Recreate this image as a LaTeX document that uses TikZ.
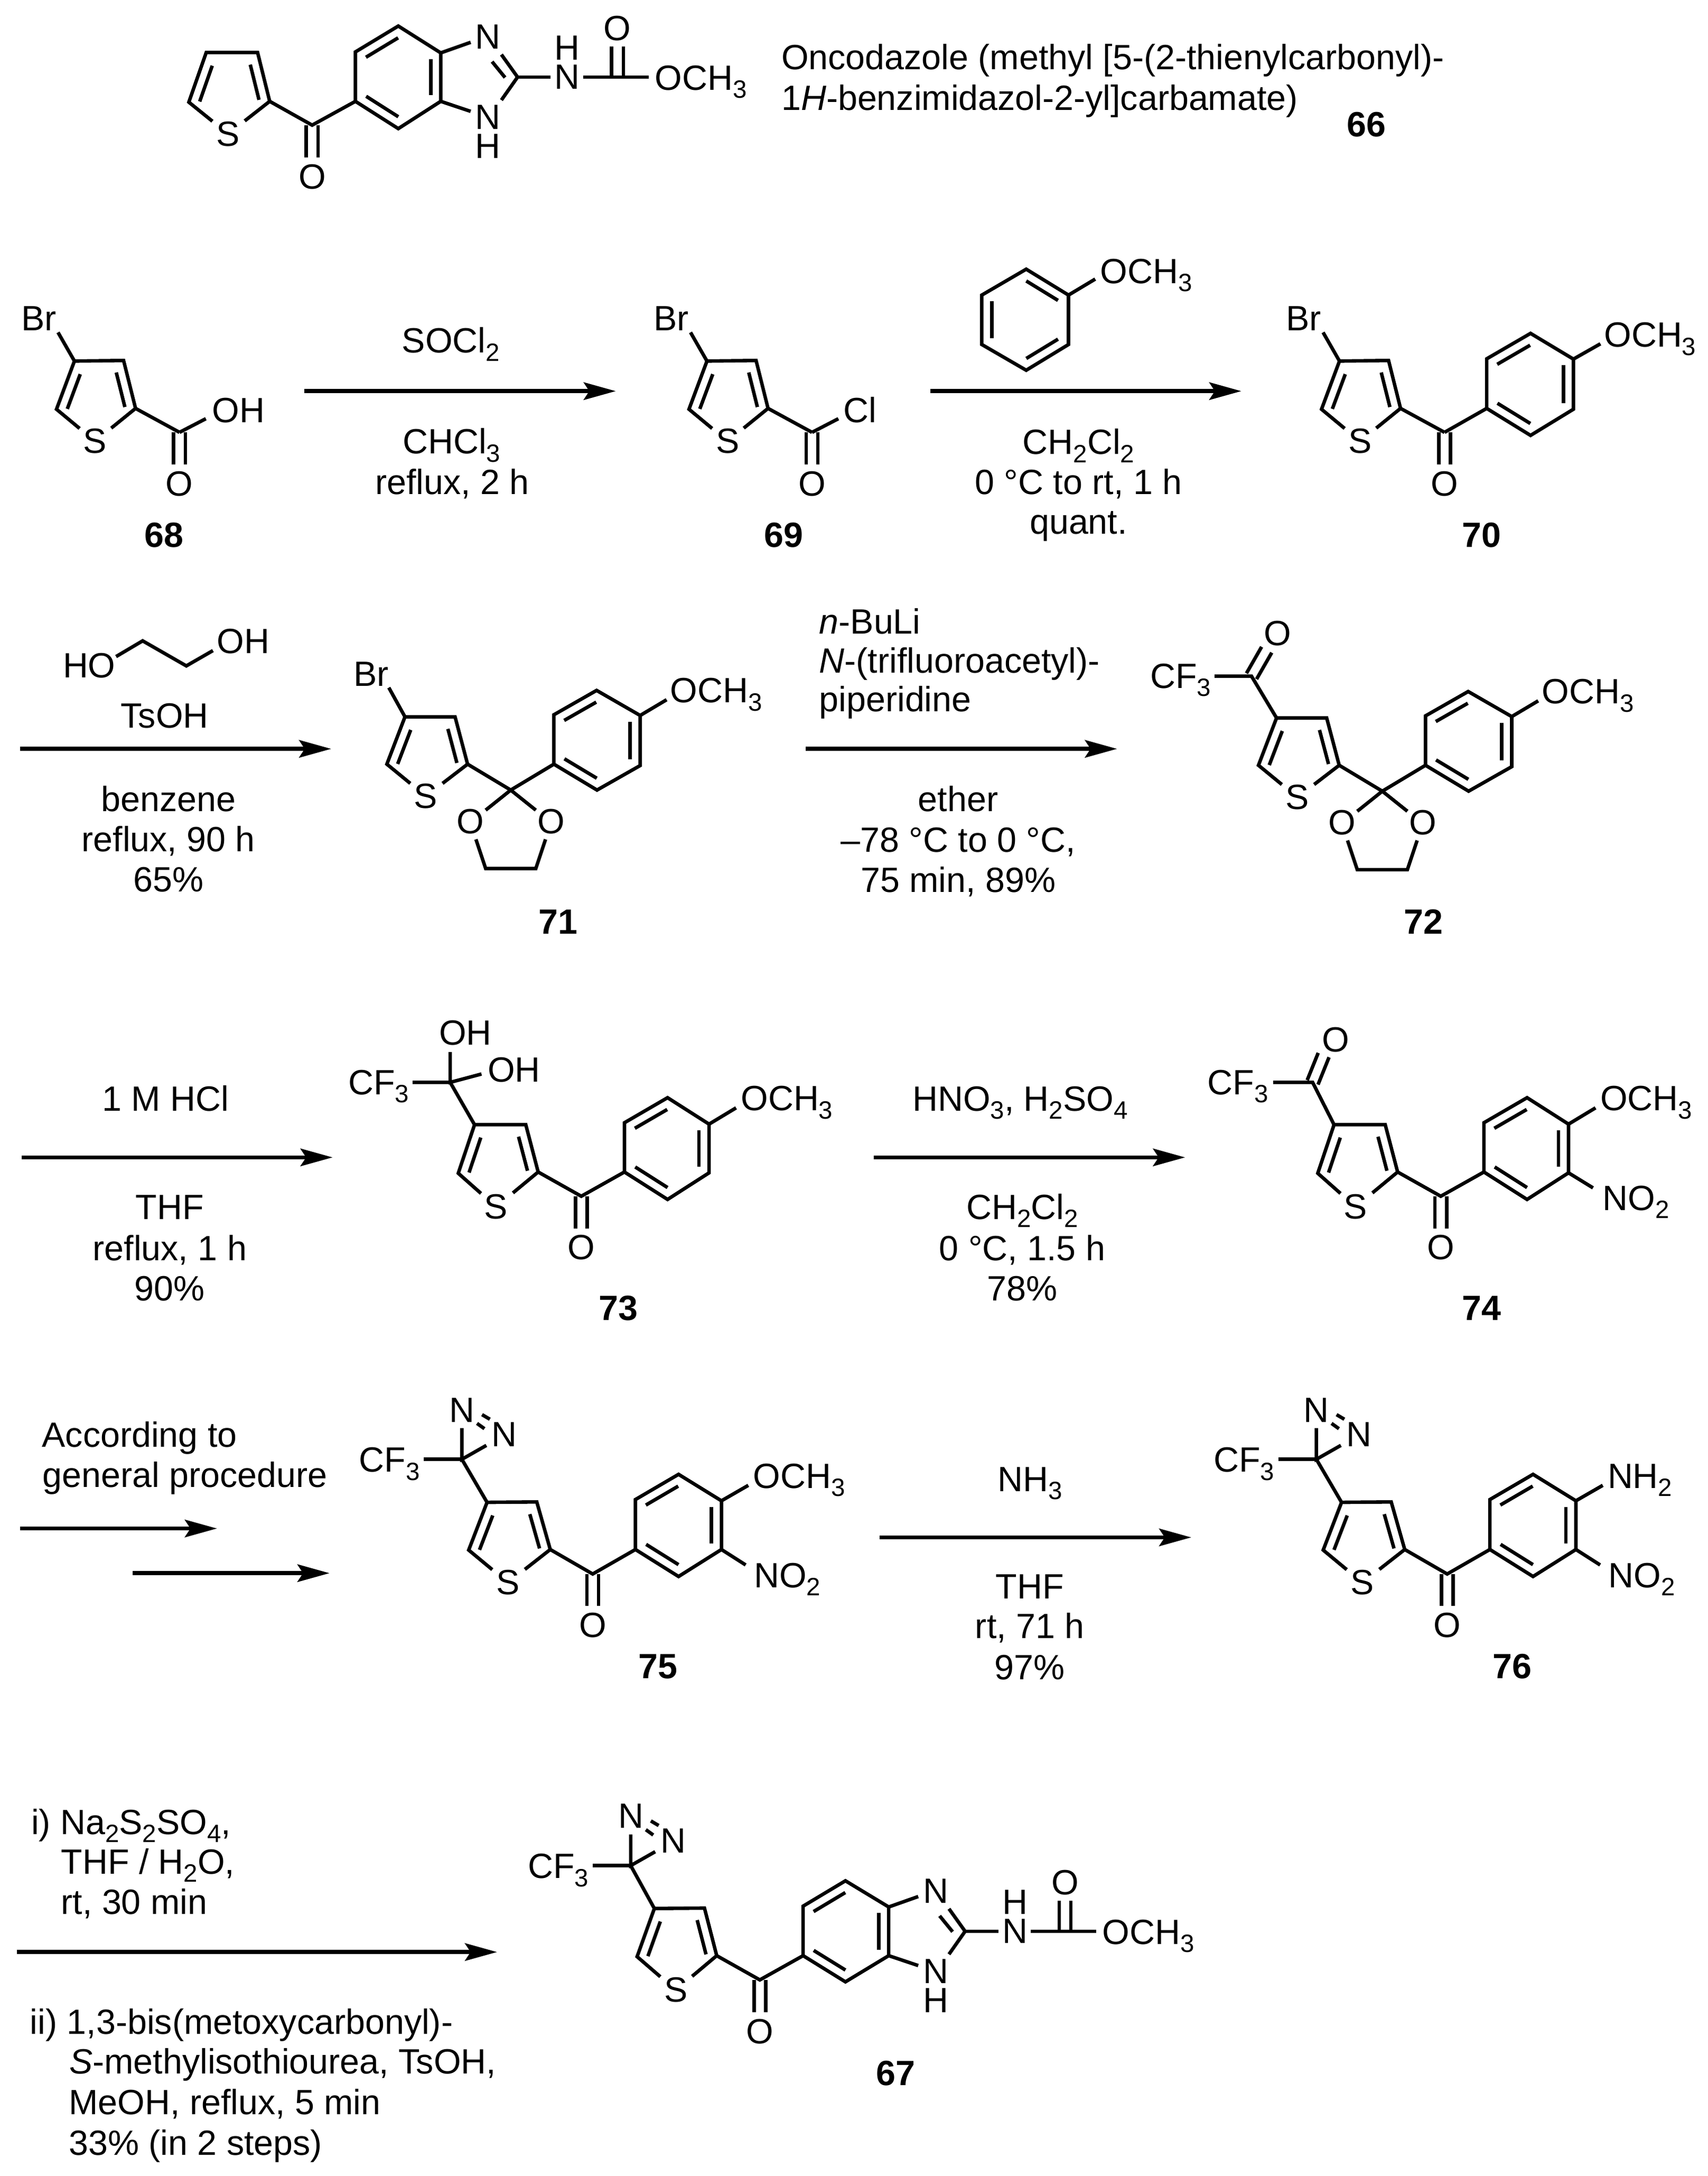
\documentclass[tikz,border=0pt]{standalone}
\usepackage{fontspec}
\setmainfont{Liberation Sans}
\usetikzlibrary{calc,arrows.meta}
\newcommand\dn[1]{\raisebox{-.23em}{\fontsize{18pt}{18pt}\selectfont #1}}
\newcommand\OMe{OCH\dn{3}}
\newcommand\CFt{CF\dn{3}}
\tikzset{
  bond/.style={line width=2.5pt,line join=miter},
  rxn/.style={line width=2.9pt,-{Stealth[length=23pt,width=12.5pt,inset=4pt]}},
  atom/.style={inner sep=0pt,anchor=center},
  ltext/.style={inner sep=0pt,anchor=base west},
  ctext/.style={inner sep=0pt,anchor=base},
  cmpd/.style={inner sep=0pt,anchor=base,font=\fontsize{25.2pt}{28pt}\selectfont\bfseries},
  every node/.append style={font=\fontsize{25.2pt}{28pt}\selectfont}
}
\newcommand\inbf[4]{\draw[bond] ($(#1)!#3!(#2)!7.2pt!-90:(#2)$) -- ($(#2)!#4!(#1)!7.2pt!90:(#1)$);}
\newcommand\inb[2]{\inbf{#1}{#2}{.125}{.125}}
\newcommand\dbond[2]{%
  \draw[bond] ($(#1)!4.2pt!90:(#2)$) -- ($(#2)!4.2pt!-90:(#1)$);
  \draw[bond] ($(#1)!4.2pt!-90:(#2)$) -- ($(#2)!4.2pt!90:(#1)$);}
% thiophene: C5, C4, C3, C2, S
\newcommand\thio[5]{%
  \coordinate (t5) at (#1);\coordinate (t4) at (#2);\coordinate (t3) at (#3);
  \coordinate (t2) at (#4);\coordinate (ts) at (#5);
  \draw[bond] ($(t5)!.6!(ts)$) -- (t5) -- (t4) -- (t3) -- (t2) -- ($(t2)!.6!(ts)$);
  \inbf{t5}{t4}{.08}{.2}\inbf{t3}{t2}{.2}{.08}
  \node[atom] (sulfur) at (ts) {S};}
% benzene, clockwise: the inner lines lie on 2-3, 4-5, 6-1
\newcommand\benz[6]{%
  \coordinate (b1) at (#1);\coordinate (b2) at (#2);\coordinate (b3) at (#3);
  \coordinate (b4) at (#4);\coordinate (b5) at (#5);\coordinate (b6) at (#6);
  \draw[bond] (b1) -- (b2) -- (b3) -- (b4) -- (b5) -- (b6) -- cycle;
  \inb{b2}{b3}\inb{b4}{b5}\inb{b6}{b1}}
% bromothiophene acyl fragment of 68, 69, 70
\newcommand\bromoacyl{%
  \thio{40.6,294}{53.5,259.4}{88.8,259}{97.4,293.4}{68.3,317}
  \coordinate (brend) at (41.7,238.8);
  \draw[bond] (t4) -- (brend);
  \node[ltext] (br) at (15,237.4) {Br};
  \coordinate (co) at (129,310.6);\coordinate (oe) at (129,333.7);
  \draw[bond] (t2) -- (co);
  \dbond{co}{oe}
  \node[atom] (oxy) at (129,347.6) {O};}
% benzimidazolyl carbamate, origin at the imidazole C2; needs b4, b5
\newcommand\carbamate{%
  \coordinate (c2) at (0,0);
  \coordinate (e1) at (-33.7,-25);\coordinate (e2) at (-33.7,24.6);
  \draw[bond] (b4) -- (e1);
  \draw[bond] (b5) -- (e2);
  \node[atom] (n1) at (-21.2,-28.8) {N};
  \node[atom] (n2) at (-21.2,28.8) {N};
  \node[atom] (h2) at (-21.2,49.6) {H};
  \coordinate (e3) at (-11.6,-16.2);\coordinate (e4) at (-11.6,16.5);
  \draw[bond] (e3) -- (c2) -- (e4);
  \coordinate (e5) at (-18.3,-11.1);\coordinate (e6) at (-9,.3);
  \draw[bond] (e5) -- (e6);
  \coordinate (e7) at (23.8,0);
  \draw[bond] (c2) -- (e7);
  \node[atom] (n3) at (35.8,0) {N};
  \node[atom] (h3) at (35.8,-21) {H};
  \coordinate (e8) at (47.3,0);\coordinate (e9) at (94.1,0);
  \draw[bond] (e8) -- (e9);
  \coordinate (c3) at (71.8,0);\coordinate (e10) at (71.8,-21.9);
  \dbond{c3}{e10}
  \node[atom] (o3) at (71.8,-35.1) {O};
  \node[ltext] (ome3) at (98.5,9.2) {\OMe};}
% diazirine with CF3, origin at the ring carbon
\newcommand\diazirine{%
  \coordinate (dc) at (0,0);
  \coordinate (f1) at (-27.4,0);
  \draw[bond] (f1) -- (dc);
  \node[ltext] (cf) at (-74,9.2) {\CFt};
  \coordinate (d1) at (0,-22.4);\coordinate (d2) at (17.6,-10);
  \draw[bond] (d1) -- (dc) -- (d2);
  \node[atom] (na) at (0.1,-35.5) {N};
  \node[atom] (nb) at (30.6,-18) {N};
  \coordinate (d3) at (14.5,-32.1);\coordinate (d4) at (20.1,-28.8);
  \coordinate (d5) at (10.9,-25.8);\coordinate (d6) at (16.2,-22);
  \draw[bond] (d3) -- (d4);
  \draw[bond] (d5) -- (d6);}
% thiophene, dioxolane, anisyl of 71 and 72
\newcommand\ketalpart{%
  \thio{278,549}{291,515}{327,515}{336,549}{306,572}
  \coordinate (k) at (367,567.6);
  \benz{398,549}{398,513.5}{428.7,496}{460,514}{460,550}{429,567.6}
  \draw[bond] (t2) -- (k) -- (b1);
  \coordinate (k1) at (349,582);\coordinate (k2) at (385,582);
  \draw[bond] (k1) -- (k) -- (k2);
  \node[atom] (ol) at (338,590) {O};
  \node[atom] (or) at (396,590) {O};
  \coordinate (k3) at (342,603);\coordinate (k4) at (349,624);
  \coordinate (k5) at (385,624);\coordinate (k6) at (392,603);
  \draw[bond] (k3) -- (k4) -- (k5) -- (k6);
  \coordinate (k7) at (479,502.7);
  \draw[bond] (b4) -- (k7);
  \node[ltext] (ome) at (481.5,504.8) {\OMe};}
% thiophene, carbonyl, anisyl of 73 and 74
\newcommand\arylpartA{%
  \thio{329.3,842.9}{341,808}{377.8,808}{386.7,842}{356.5,867}
  \benz{448.7,842}{448.7,806.6}{479.7,788.6}{509.5,807.6}{509.5,842.6}{479.7,861.7}
  \coordinate (co) at (417.7,859.4);\coordinate (oe) at (417.7,882.7);
  \draw[bond] (t2) -- (co) -- (b1);
  \dbond{co}{oe}
  \node[atom] (oxy) at (417.7,896.2) {O};
  \coordinate (me) at (528.9,795.9);
  \draw[bond] (b4) -- (me);
  \node[ltext] (ome) at (532.2,797.9) {\OMe};}
% CF3-diazirine, thiophene, carbonyl, benzene of 75 and 76
\newcommand\arylpartB{%
  \thio{336.8,1113.6}{350,1079.3}{385.7,1079}{395.4,1113.2}{365,1137}
  \benz{456.6,1113.2}{456.6,1077.3}{487.6,1059.2}{518.4,1078.2}{518.4,1113.2}{487.6,1132.6}
  \coordinate (co) at (425.9,1130.8);\coordinate (oe) at (425.9,1153.6);
  \draw[bond] (t2) -- (co) -- (b1);
  \dbond{co}{oe}
  \node[atom] (oxy) at (425.9,1167.7) {O};
  \begin{scope}[shift={(331.9,1048.4)}]\diazirine\end{scope}
  \draw[bond] (dc) -- (t4);
  \coordinate (me) at (537.7,1067.1);\coordinate (ne) at (535.8,1124.3);
  \draw[bond] (b4) -- (me);
  \draw[bond] (b5) -- (ne);
  \node[ltext] (no) at (541.6,1140.6) {NO\dn{2}};}
\begin{document}
\begin{tikzpicture}[x=1pt,y=-1pt]
\fill[white] (0,0) rectangle (1227,1563);
\useasboundingbox (0,0) rectangle (1227,1563.3);

%%% 66
\thio{135.7,73.4}{148.2,37.7}{185.1,37.7}{193.8,72.8}{163.9,96.2}
\benz{255.4,72.8}{255.4,37.3}{286.2,18.7}{316.7,38}{316.7,72.8}{286.2,92.4}
\coordinate (co66) at (224.3,89.9);\coordinate (oe66) at (224.3,113.3);
\draw[bond] (t2) -- (co66) -- (b1);
\dbond{co66}{oe66}
\node[atom] (oxy66) at (224.3,127) {O};
\begin{scope}[shift={(371.9,55.4)}]\carbamate\end{scope}
\node[ltext] (name1) at (561.3,50) {Oncodazole (methyl [5-(2-thienylcarbonyl)-};
\node[ltext] (name2) at (561.3,79) {1\textit{H}-benzimidazol-2-yl]carbamate)};
\node[cmpd] (c66) at (982,98) {66};

%%% 68
\begin{scope}\bromoacyl\end{scope}
\coordinate (oh68) at (147.9,300.8);
\draw[bond] (co) -- (oh68);
\node[ltext] (ohl) at (152.3,303.4) {OH};
\node[cmpd] (c68) at (118,393) {68};
\coordinate (a1s) at (218.8,281);\coordinate (a1e) at (442.5,281);
\draw[rxn] (a1s) -- (a1e);
\node[ctext] (r1a) at (324,253.5) {SOCl\dn{2}};
\node[ctext] (r1b) at (324.5,326) {CHCl\dn{3}};
\node[ctext] (r1c) at (325,355) {reflux, 2 h};

%%% 69
\begin{scope}[shift={(454.5,0)}]
\bromoacyl
\coordinate (cl69) at (147.9,300.8);
\draw[bond] (co) -- (cl69);
\node[ltext] (cll) at (151.5,303.4) {Cl};
\end{scope}
\node[cmpd] (c69) at (563,393) {69};
\coordinate (a2s) at (668.4,281);\coordinate (a2e) at (892,281);
\draw[rxn] (a2s) -- (a2e);
\begin{scope}
\benz{705.5,212}{737.4,193.4}{767.8,212}{767.8,247.5}{737.4,266}{705.5,247.5}
\coordinate (an) at (787,200.5);
\draw[bond] (b3) -- (an);
\node[ltext] (anome) at (790.5,203.5) {\OMe};
\end{scope}
\node[ctext] (r2a) at (775,326.4) {CH\dn{2}Cl\dn{2}};
\node[ctext] (r2b) at (775,355) {0 °C to rt, 1 h};
\node[ctext] (r2c) at (775,383.5) {quant.};

%%% 70
\begin{scope}[shift={(909,0)}]\bromoacyl\end{scope}
\benz{1068.3,293.4}{1068.3,257.8}{1099.8,239.5}{1130.6,258}{1130.6,294}{1099.8,312.8}
\draw[bond] (co) -- (b1);
\coordinate (me70) at (1150,247);
\draw[bond] (b4) -- (me70);
\node[ltext] (ome70) at (1152.5,249.4) {\OMe};
\node[cmpd] (c70) at (1064.6,393) {70};

%%% reagents to 71
\node[ltext] (ho) at (45,487) {HO};
\coordinate (g1) at (83.4,471.7);\coordinate (g2) at (102.5,460.4);
\coordinate (g3) at (133.9,478.4);\coordinate (g4) at (153,467.4);
\draw[bond] (g1) -- (g2) -- (g3) -- (g4);
\node[ltext] (oh2) at (155.7,469.4) {OH};
\node[ctext] (r3a) at (118.3,523) {TsOH};
\coordinate (a3s) at (14.4,538);\coordinate (a3e) at (238,538);
\draw[rxn] (a3s) -- (a3e);
\node[ctext] (r3b) at (121,582.8) {benzene};
\node[ctext] (r3c) at (121,611.7) {reflux, 90 h};
\node[ctext] (r3d) at (121,640.8) {65\%};

%%% 71
\begin{scope}\ketalpart\end{scope}
\coordinate (br71) at (279.4,494);
\draw[bond] (t4) -- (br71);
\node[ltext] (brl71) at (254,492.8) {Br};
\node[cmpd] (c71) at (401,671) {71};

%%% reagents to 72
\node[ltext] (r4a) at (588.5,455.5) {\textit{n}-BuLi};
\node[ltext] (r4b) at (588.5,483.5) {\textit{N}-(trifluoroacetyl)-};
\node[ltext] (r4c) at (588.5,511) {piperidine};
\coordinate (a4s) at (579,538);\coordinate (a4e) at (802.7,538);
\draw[rxn] (a4s) -- (a4e);
\node[ctext] (r4d) at (688.5,583) {ether};
\node[ctext] (r4e) at (688.5,612) {–78 °C to 0 °C,};
\node[ctext] (r4f) at (688.5,641) {75 min, 89\%};

%%% 72
\begin{scope}[shift={(626.3,.8)}]\ketalpart\end{scope}
\coordinate (cf72) at (899.3,485.8);\coordinate (cb72) at (872.7,485.8);
\coordinate (oe72) at (910.2,466.8);
\draw[bond] (t4) -- (cf72) -- (cb72);
\dbond{cf72}{oe72}
\node[ltext] (cf3l72) at (826.3,494.4) {\CFt};
\node[atom] (o72) at (917.9,454.9) {O};
\node[cmpd] (c72) at (1022.8,671) {72};

%%% to 73
\coordinate (a5s) at (15.5,831.5);\coordinate (a5e) at (239,831.5);
\draw[rxn] (a5s) -- (a5e);
\node[ctext] (r5a) at (119,798.2) {1 M HCl};
\node[ctext] (r5b) at (122,876) {THF};
\node[ctext] (r5c) at (122,905.7) {reflux, 1 h};
\node[ctext] (r5d) at (122,934.5) {90\%};

%%% 73
\begin{scope}\arylpartA\end{scope}
\coordinate (cq73) at (323.5,777.6);\coordinate (cb73) at (296.4,777.6);
\coordinate (u73) at (323.5,755.8);\coordinate (v73) at (346,771.6);
\draw[bond] (t4) -- (cq73) -- (cb73);
\draw[bond] (u73) -- (cq73) -- (v73);
\node[ltext] (cf3l73) at (250,786.2) {\CFt};
\node[ltext] (ohu73) at (315.4,750.6) {OH};
\node[ltext] (ohv73) at (350.2,777.3) {OH};
\node[cmpd] (c73) at (444.4,948.3) {73};

%%% to 74
\coordinate (a6s) at (628,831.5);\coordinate (a6e) at (851.6,831.5);
\draw[rxn] (a6s) -- (a6e);
\node[ctext] (r6a) at (733,798) {HNO\dn{3}, H\dn{2}SO\dn{4}};
\node[ctext] (r6b) at (734.6,876) {CH\dn{2}Cl\dn{2}};
\node[ctext] (r6c) at (734.6,905.7) {0 °C, 1.5 h};
\node[ctext] (r6d) at (734.6,934.5) {78\%};

%%% 74
\begin{scope}[shift={(617.6,0)}]\arylpartA\end{scope}
\coordinate (cq74) at (943.2,777.6);\coordinate (cb74) at (914.8,777.6);
\coordinate (oe74) at (951.1,758);\coordinate (ne74) at (1144.7,853.4);
\draw[bond] (t4) -- (cq74) -- (cb74);
\dbond{cq74}{oe74}
\draw[bond] (b5) -- (ne74);
\node[ltext] (cf3l74) at (867.6,786.2) {\CFt};
\node[atom] (o74) at (959.8,746.8) {O};
\node[ltext] (no74) at (1151.5,869.6) {NO\dn{2}};
\node[cmpd] (c74) at (1064.5,948.3) {74};

%%% to 75
\node[ltext] (r7a) at (30,1039.6) {According to};
\node[ltext] (r7b) at (30.4,1068.4) {general procedure};
\coordinate (a7s) at (14.4,1098.1);\coordinate (a7e) at (155.9,1098.1);
\draw[rxn] (a7s) -- (a7e);
\coordinate (a8s) at (95.4,1130.2);\coordinate (a8e) at (236.8,1130.2);
\draw[rxn] (a8s) -- (a8e);

%%% 75
\begin{scope}\arylpartB\end{scope}
\node[ltext] (ome75) at (541,1069.1) {\OMe};
\node[cmpd] (c75) at (472.8,1206) {75};

%%% to 76
\coordinate (a9s) at (632,1104.5);\coordinate (a9e) at (856,1104.5);
\draw[rxn] (a9s) -- (a9e);
\node[ctext] (r9a) at (740,1071.5) {NH\dn{3}};
\node[ctext] (r9b) at (740,1148.5) {THF};
\node[ctext] (r9c) at (740,1177) {rt, 71 h};
\node[ctext] (r9d) at (740,1206.5) {97\%};

%%% 76
\begin{scope}[shift={(614,0)}]\arylpartB
\node[ltext] (nh76) at (541,1069.1) {NH\dn{2}};
\end{scope}
\node[cmpd] (c76) at (1086.8,1206) {76};

%%% to 67
\node[ltext] (r10a) at (22.2,1317.7) {i) Na\dn{2}S\dn{2}SO\dn{4},};
\node[ltext] (r10b) at (43.7,1346.4) {THF / H\dn{2}O,};
\node[ltext] (r10c) at (43.7,1375.1) {rt, 30 min};
\coordinate (a10s) at (12,1402.4);\coordinate (a10e) at (357.2,1402.4);
\draw[rxn] (a10s) -- (a10e);
\node[ltext] (r10d) at (21.4,1461.2) {ii) 1,3-bis(metoxycarbonyl)-};
\node[ltext] (r10e) at (49.6,1489.9) {\textit{S}-methylisothiourea, TsOH,};
\node[ltext] (r10f) at (49.3,1519) {MeOH, reflux, 5 min};
\node[ltext] (r10g) at (49.3,1548.1) {33\% (in 2 steps)};

%%% 67
\thio{457.8,1405.7}{470.2,1371.1}{506.2,1370.8}{515,1405}{485.6,1429.7}
\benz{577.1,1405}{577.1,1369.4}{607.5,1351.2}{638.6,1370}{638.6,1405}{607.5,1423.8}
\coordinate (co67) at (546,1422.4);\coordinate (oe67) at (546,1445.6);
\draw[bond] (t2) -- (co67) -- (b1);
\dbond{co67}{oe67}
\node[atom] (oxy67) at (546,1459.4) {O};
\begin{scope}[shift={(453.2,1340.3)}]\diazirine\end{scope}
\draw[bond] (dc) -- (t4);
\begin{scope}[shift={(693.5,1387.5)}]\carbamate\end{scope}
\node[cmpd] (c67) at (643.5,1498) {67};
\end{tikzpicture}
\end{document}
